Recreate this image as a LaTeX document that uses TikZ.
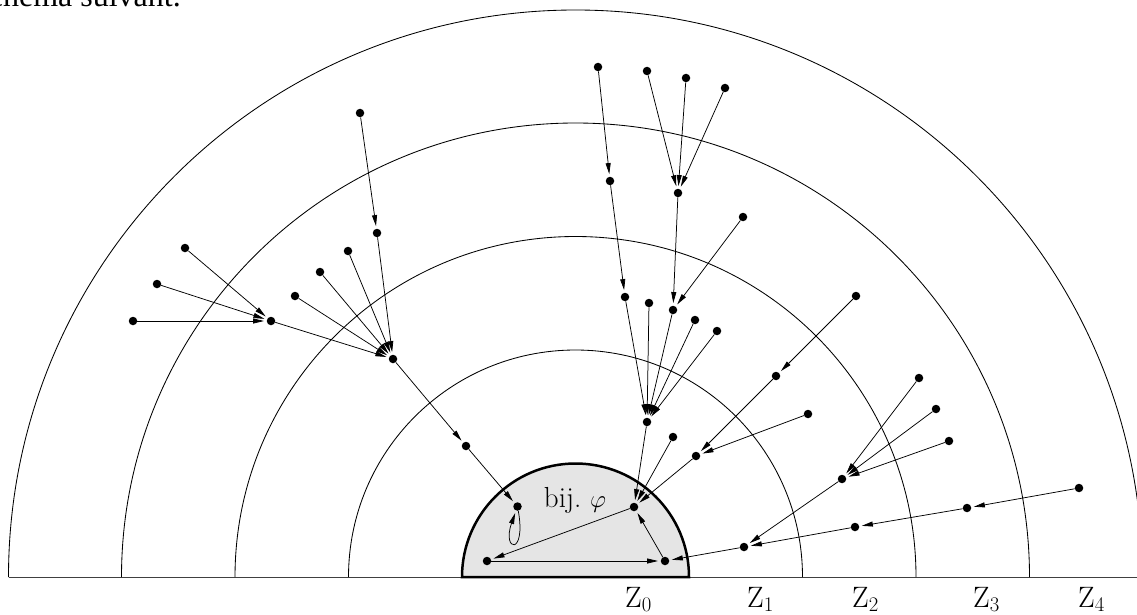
\documentclass[tikz,border=0pt]{standalone}
\usepackage{fontspec}
\newfontfamily\timesfont{Liberation Serif}
\usetikzlibrary{arrows.meta}
\begin{document}
\begin{tikzpicture}[x=1pt,y=1pt,
  dot/.style={circle,fill=black,inner sep=0pt,minimum size=8.5pt},
  arr/.style={-{Triangle[length=11pt,width=5pt]},shorten >=2.5pt,line width=0.75pt},
  zone/.style={line width=0.85pt},
  lab/.style={anchor=base west,inner sep=0pt,font=\fontsize{29.5}{31}\selectfont}]
\useasboundingbox (0,0) rectangle (1137,-615);
\clip (0,0) rectangle (1137,-615);
\node[anchor=base east,inner sep=0pt,font=\timesfont\fontsize{32}{34}\selectfont] (txt) at (181,-7) {schéma suivant.};
\coordinate (O) at (575.5,-577);
% baseline
\draw[line width=1pt,black!75] (O) ++(-567,0) coordinate (bl) -- ++(1134,0) coordinate (br);
% zone arcs
\foreach \r in {227,340.5,454,567}
  \draw[zone] (O) ++(\r,0) arc[start angle=0,end angle=180,radius=\r];
% Z0 region
\filldraw[fill=black!10,line width=2.5pt] (O) ++(113.5,0) arc[start angle=0,end angle=180,radius=113.5] -- cycle;
% nodes
\node[dot] (a1) at (185,-248) {};
\node[dot] (a2) at (157,-284) {};
\node[dot] (a3) at (133,-321) {};
\node[dot] (A) at (271,-321) {};
\node[dot] (b1) at (295,-296) {};
\node[dot] (b2) at (320,-272) {};
\node[dot] (b3) at (348,-251) {};
\node[dot] (b4) at (377,-233) {};
\node[dot] (b5) at (360,-113) {};
\node[dot] (B) at (393,-359) {};
\node[dot] (E) at (466,-446) {};
\node[dot] (L) at (517.5,-506.5) {};
\node[dot] (m1) at (598,-67) {};
\node[dot] (m2) at (647,-71) {};
\node[dot] (m3) at (686,-78) {};
\node[dot] (m4) at (725,-88) {};
\node[dot] (m5) at (610,-181) {};
\node[dot] (M) at (678,-193) {};
\node[dot] (m6) at (743,-217) {};
\node[dot] (c1) at (625,-297) {};
\node[dot] (c2) at (649,-303) {};
\node[dot] (c3) at (673,-310) {};
\node[dot] (c4) at (695,-320) {};
\node[dot] (c5) at (717,-331) {};
\node[dot] (C) at (647,-422) {};
\node[dot] (D) at (634,-507) {};
\node[dot] (d1) at (673,-437) {};
\node[dot] (d2) at (696,-456) {};
\node[dot] (r1) at (856,-296) {};
\node[dot] (r2) at (776,-376) {};
\node[dot] (r3) at (808,-414) {};
\node[dot] (G) at (487,-561) {};
\node[dot] (H) at (665,-561) {};
\node[dot] (s1) at (919,-378) {};
\node[dot] (s2) at (936,-409) {};
\node[dot] (s3) at (949,-441) {};
\node[dot] (S) at (842,-479) {};
\node[dot] (t1) at (1079,-488) {};
\node[dot] (t2) at (967,-508) {};
\node[dot] (t3) at (855,-527) {};
\node[dot] (T) at (744,-547) {};
% connectors
\foreach \u/\v in {a1/A,a2/A,a3/A,A/B,b1/B,b2/B,b3/B,b4/B,b5/b4,B/E,E/L,
  m1/m5,m5/c1,m2/M,m3/M,m4/M,M/c3,m6/c3,
  c1/C,c2/C,c3/C,c4/C,c5/C,C/D,d1/D,d2/D,
  r1/r2,r2/d2,r3/d2,D/G,G/H,H/D,
  s1/S,s2/S,s3/S,S/T,t1/t2,t2/t3,t3/T,T/H}
  \draw[arr] (\u) -- (\v);
\draw[arr] (L) .. controls +(9,-50) and +(-16,-45) .. (L);
% labels
\node[anchor=base,inner sep=0pt,font=\fontsize{29}{31}\selectfont] (phi) at (575,-507) {bij.\ $\varphi$};
\node[lab] (z0) at (625,-607) {Z$_0$};
\node[lab] (z1) at (747,-607) {Z$_1$};
\node[lab] (z2) at (852,-607) {Z$_2$};
\node[lab] (z3) at (973,-607) {Z$_3$};
\node[lab] (z4) at (1078,-607) {Z$_4$};
\end{tikzpicture}
\end{document}
